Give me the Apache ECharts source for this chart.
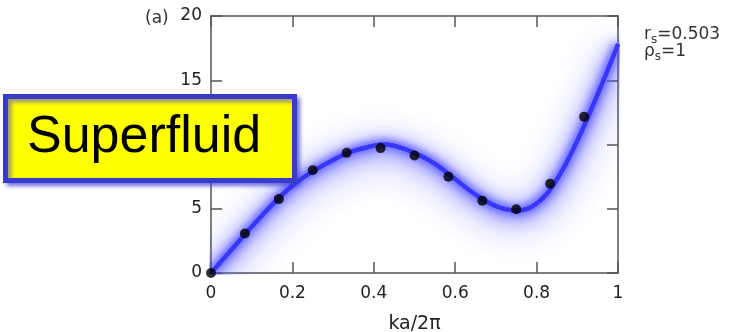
<!DOCTYPE html>
<html><head><meta charset="utf-8">
<script src="https://cdn.jsdelivr.net/npm/echarts@6/dist/echarts.min.js"></script>
<style>html,body{margin:0;padding:0;background:#fff}#c{width:731px;height:332px}</style>
</head><body><div id="c"></div>
<script>
// data
const dotK = [0, 0.0833, 0.1667, 0.25, 0.3333, 0.4167, 0.5, 0.5833, 0.6667, 0.75, 0.8333, 0.9167];
const dotE = [0, 3.07, 5.75, 8.0, 9.35, 9.72, 9.15, 7.5, 5.62, 4.96, 6.95, 12.15];
const curveK = [0, 0.05, 0.1, 0.15, 0.2, 0.25, 0.3, 0.35, 0.4, 0.42, 0.45, 0.5, 0.55, 0.6, 0.65, 0.7, 0.75, 0.8, 0.85, 0.9, 0.95, 1.0];
const curveE = [0, 1.8, 3.6, 5.3, 6.8, 7.9, 8.8, 9.5, 9.9, 10.0, 9.9, 9.35, 8.5, 7.3, 6.1, 5.2, 4.85, 5.4, 7.3, 10.3, 13.9, 17.8];
const xTicks = [0, 0.2, 0.4, 0.6, 0.8, 1];
const yTicks = [0, 5, 10, 15, 20];

const curve = curveK.map((k, i) => [k, curveE[i]]);
const dots = dotK.map((k, i) => [k, dotE[i]]);

const axisCol = '#555';
const font = 'DejaVu Sans, sans-serif';
const boxFont = 'Liberation Sans, Arial, sans-serif';

function axisCommon(extra) {
  return Object.assign({
    type: 'value',
    axisLine: { show: true, onZero: false, lineStyle: { color: axisCol, width: 1.5 } },
    axisTick: { show: true, inside: true, length: 11, lineStyle: { color: axisCol, width: 1.5 } },
    splitLine: { show: false }
  }, extra);
}

// glow layers: thin opaque lines whose blurred shadows form the halo: [blur, offsetY]
const glowLayers = [[38, 7], [38, 7], [18, 3], [18, 3], [8, 0], [8, 0]];
const glowSeries = glowLayers.map((g, i) => ({
  type: 'line', data: curve, smooth: 0.4, symbol: 'none', z: 1 + i, silent: true, clip: true,
  lineStyle: { width: 4, color: 'rgb(70,70,255)', cap: 'butt', join: 'round',
    shadowBlur: g[0], shadowColor: 'rgb(80,80,255)', shadowOffsetY: g[1] }
}));

const chart = echarts.init(document.getElementById('c'), null, { renderer: 'canvas' });
chart.setOption({
  animation: false,
  grid: { left: 211, right: 113, top: 16, bottom: 59, outerBoundsMode: 'none', containLabel: false },
  xAxis: [
    axisCommon({
      position: 'bottom', min: xTicks[0], max: xTicks[xTicks.length - 1], interval: 0.2,
      name: 'ka/2\u03c0', nameLocation: 'middle', nameGap: 42,
      nameTextStyle: { fontFamily: font, fontSize: 19, color: '#222' },
      axisLabel: { fontFamily: font, fontSize: 17, color: '#222', margin: 12 }
    }),
    axisCommon({ position: 'top', min: 0, max: 1, interval: 0.2, axisLabel: { show: false } })
  ],
  yAxis: [
    axisCommon({
      position: 'left', min: yTicks[0], max: yTicks[yTicks.length - 1], interval: 5,
      axisLabel: { fontFamily: font, fontSize: 17, color: '#222', margin: 9 }
    }),
    axisCommon({ position: 'right', min: 0, max: 20, interval: 5, axisLabel: { show: false } })
  ],
  series: glowSeries.concat([
    {
      type: 'line', data: curve, smooth: 0.4, symbol: 'none', z: 8, silent: true, clip: true,
      lineStyle: { width: 3.5, color: 'rgb(55,55,245)', cap: 'butt' }
    },
    {
      type: 'scatter', data: dots, symbol: 'circle', symbolSize: 10, z: 10, clip: false,
      itemStyle: { color: '#000' }
    }
  ]),
  graphic: [
    { type: 'text', x: 145, y: 19, style: { text: '(a)', fontFamily: font, fontSize: 17, fill: '#333', verticalAlign: 'middle' } },
    { type: 'text', x: 644, y: 35, style: {
        text: '{m|r}{s|s}{m|=0.503}', verticalAlign: 'middle',
        rich: { m: { fontSize: 17, fill: '#333', fontFamily: font }, s: { fontSize: 12, fill: '#333', fontFamily: font, padding: [9, 0, 0, 0] } } } },
    { type: 'text', x: 644, y: 52, style: {
        text: '{m|\u03c1}{s|s}{m|=1}', verticalAlign: 'middle',
        rich: { m: { fontSize: 17, fill: '#333', fontFamily: font }, s: { fontSize: 12, fill: '#333', fontFamily: font, padding: [9, 0, 0, 0] } } } },
    { type: 'rect', shape: { x: 5.5, y: 96.5, width: 289, height: 84 }, z: 100,
      style: { fill: '#ffff00', stroke: '#3a3acc', lineWidth: 5,
        shadowBlur: 4, shadowOffsetX: 3, shadowOffsetY: 3, shadowColor: 'rgba(60,60,210,0.6)' } },
    { type: 'text', x: 27, y: 138, z: 101,
      style: { text: 'Superfluid', fontFamily: boxFont, fontSize: 52, fill: '#000', verticalAlign: 'middle' } }
  ]
});
</script></body></html>
